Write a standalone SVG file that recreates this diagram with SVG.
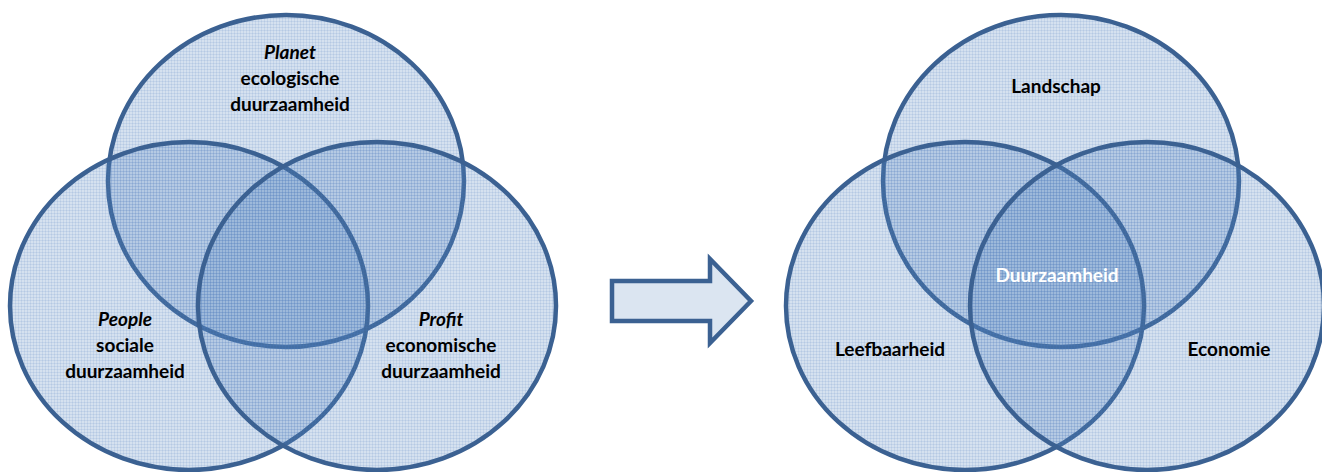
<svg xmlns="http://www.w3.org/2000/svg" width="1322" height="472" viewBox="0 0 1322 472">
  <defs>
    <pattern id="hatch" width="3" height="3" patternUnits="userSpaceOnUse">
      <rect width="3" height="3" fill="#4f81bd" fill-opacity="0.24"/>
      <rect width="3" height="1" fill="#4f81bd" fill-opacity="0.12"/>
      <rect width="1" height="3" fill="#4f81bd" fill-opacity="0.12"/>
    </pattern>
  </defs>
  <style>
    .circ { fill: url(#hatch); stroke: #3b6192; stroke-width: 4.5; }
    .lbl { font-family: Lato, "Liberation Sans", sans-serif; font-weight: bold; font-size: 19px; fill: #000; text-anchor: middle; }
    .it { font-style: italic; }
    .white { fill: #ffffff; }
    .arrow { fill: #dbe5f1; stroke: #3b6192; stroke-width: 4.5; stroke-linejoin: miter; }
  </style>
  <rect width="1322" height="472" fill="#ffffff"/>

  <g id="planet">
    <ellipse class="circ" cx="286" cy="181" rx="178" ry="166"/>
    <text class="lbl it" x="290" y="59">Planet</text>
    <text class="lbl" x="290" y="85">ecologische</text>
    <text class="lbl" x="290" y="111">duurzaamheid</text>
  </g>
  <g id="people">
    <ellipse class="circ" cx="189" cy="306" rx="179" ry="164"/>
    <text class="lbl it" x="125" y="326">People</text>
    <text class="lbl" x="125" y="352">sociale</text>
    <text class="lbl" x="125" y="378">duurzaamheid</text>
  </g>
  <g id="profit">
    <ellipse class="circ" cx="377" cy="306" rx="179" ry="164"/>
    <text class="lbl it" x="441" y="326">Profit</text>
    <text class="lbl" x="441" y="352">economische</text>
    <text class="lbl" x="441" y="378">duurzaamheid</text>
  </g>

  <g id="landschap">
    <ellipse class="circ" cx="1061" cy="181" rx="178" ry="166"/>
    <text class="lbl" x="1056" y="93">Landschap</text>
  </g>
  <g id="leefbaarheid">
    <ellipse class="circ" cx="965" cy="306" rx="179" ry="164"/>
    <text class="lbl" x="890" y="356">Leefbaarheid</text>
  </g>
  <g id="economie">
    <ellipse class="circ" cx="1147" cy="306" rx="177" ry="164"/>
    <text class="lbl" x="1229" y="356">Economie</text>
  </g>
  <g id="duurzaamheid">
    <text class="lbl white" x="1057" y="282">Duurzaamheid</text>
  </g>

  <g id="connectors">
    <path class="arrow" d="M612,281 L710,281 L710,259 L751,301 L710,343 L710,321 L612,321 Z"/>
  </g>
</svg>
